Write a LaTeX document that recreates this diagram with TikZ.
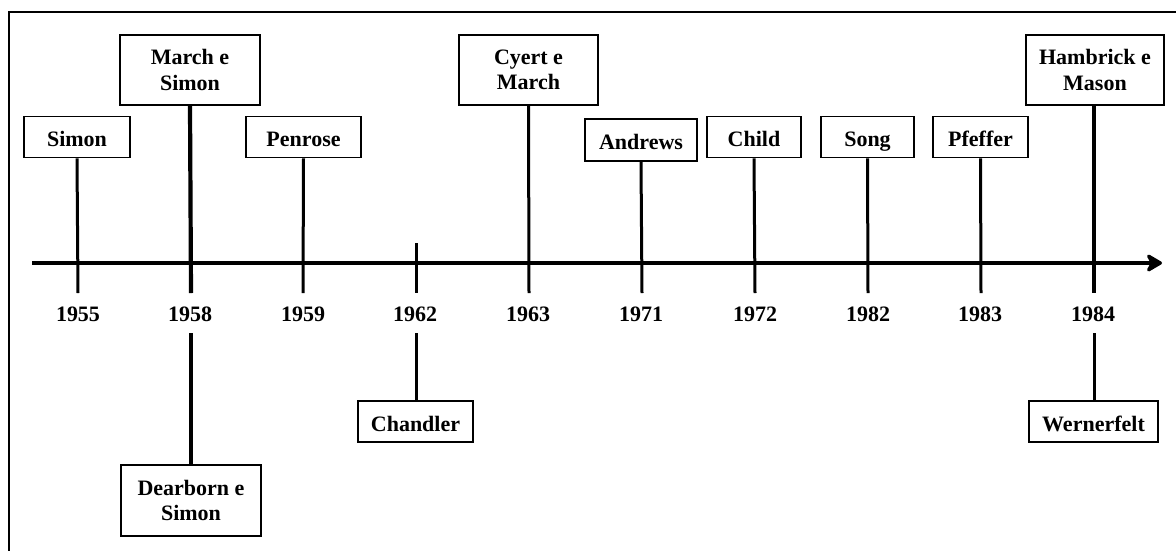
\documentclass[tikz,border=0pt]{standalone}
\usepackage{fontspec}
\setmainfont{Liberation Serif}
\usetikzlibrary{arrows.meta}
\begin{document}
\begin{tikzpicture}[x=1pt,y=-1pt,
  every node/.style={font=\bfseries\fontsize{22}{25.5}\selectfont, inner sep=0pt},
  event/.style={draw, line width=1.8pt, align=center, minimum height=41pt,
    text height=19pt, text depth=0pt},
  pair/.style={draw, line width=1.8pt, align=center, minimum height=70pt, minimum width=140pt},
  stem/.style={line width=3pt},
  heavy/.style={line width=4.2pt},
  axis/.style={line width=4.8pt, -{Stealth[length=19pt,width=22pt,inset=6pt,round]}},
  year/.style={anchor=center, text height=14pt, text depth=0pt}]
\useasboundingbox (0,0) rectangle (1176,550);
% frame
\coordinate (fl) at (9,560);
\coordinate (fc) at (9,12);
\coordinate (fr) at (1190,12);
\draw[line width=2.2pt] (fl) -- (fc) -- (fr);

% events above the axis
\node[event, minimum width=106pt] (simon) at (77,137) {Simon};
\node[pair] (marchsimon) at (190,70) {March e\\Simon};
\node[event, minimum width=115pt] (penrose) at (303.5,137) {Penrose};
\node[pair, minimum width=139pt] (cyert) at (528.5,70) {Cyert e\\March};
\node[event, minimum width=112pt, minimum height=42pt] (andrews) at (641,140) {Andrews};
\node[event, minimum width=94pt] (child) at (754,137) {Child};
\node[event, minimum width=93pt] (song) at (867.5,137) {Song};
\node[event, minimum width=95pt] (pfeffer) at (980.5,137) {Pfeffer};
\node[pair, minimum width=138pt] (hambrick) at (1095,70) {Hambrick e\\Mason};

% events below the axis
\node[pair, minimum height=71pt] (dearborn) at (191,500.5) {Dearborn e\\Simon};
\node[event, minimum width=115pt] (chandler) at (415.5,421.5) {Chandler};
\node[event, minimum width=129pt] (wernerfelt) at (1093.5,421.5) {Wernerfelt};

% tick ends below the axis
\coordinate (t55) at (78,293);
\coordinate (t58) at (191,293);
\coordinate (t59) at (303,293);
\coordinate (t62) at (416,293);
\coordinate (t63) at (529,293);
\coordinate (t71) at (642,293);
\coordinate (t72) at (755,293);
\coordinate (t82) at (868,293);
\coordinate (t83) at (981,293);
\coordinate (t84) at (1094,293);
\coordinate (u62) at (416,243);

% stems
\draw[stem] (simon.south) -- (t55);
\draw[heavy] (marchsimon.south) -- (t58);
\draw[stem] (penrose.south) -- (t59);
\draw[stem] (u62) -- (t62);
\draw[stem] (cyert.south) -- (t63);
\draw[stem] (andrews.south) -- (t71);
\draw[stem] (child.south) -- (t72);
\draw[stem] (song.south) -- (t82);
\draw[stem] (pfeffer.south) -- (t83);
\draw[heavy] (hambrick.south -| t84) -- (t84);

% axis
\coordinate (axL) at (32,263);
\coordinate (axR) at (1162,263);
\draw[axis] (axL) -- (axR);

% years
\node[year] (y55) at (78,314) {1955};
\node[year] (y58) at (190,314) {1958};
\node[year] (y59) at (303,314) {1959};
\node[year] (y62) at (415,314) {1962};
\node[year] (y63) at (528,314) {1963};
\node[year] (y71) at (641,314) {1971};
\node[year] (y72) at (755,314) {1972};
\node[year] (y82) at (868,314) {1982};
\node[year] (y83) at (980,314) {1983};
\node[year] (y84) at (1093,314) {1984};

% lower stems
\coordinate (l58) at (191,333);
\coordinate (l62) at (416,333);
\coordinate (l84) at (1094,333);
\draw[heavy] (l58) -- (dearborn.north);
\draw[stem] (l62) -- (chandler.north -| l62);
\draw[stem] (l84) -- (wernerfelt.north -| l84);
\end{tikzpicture}
\end{document}
